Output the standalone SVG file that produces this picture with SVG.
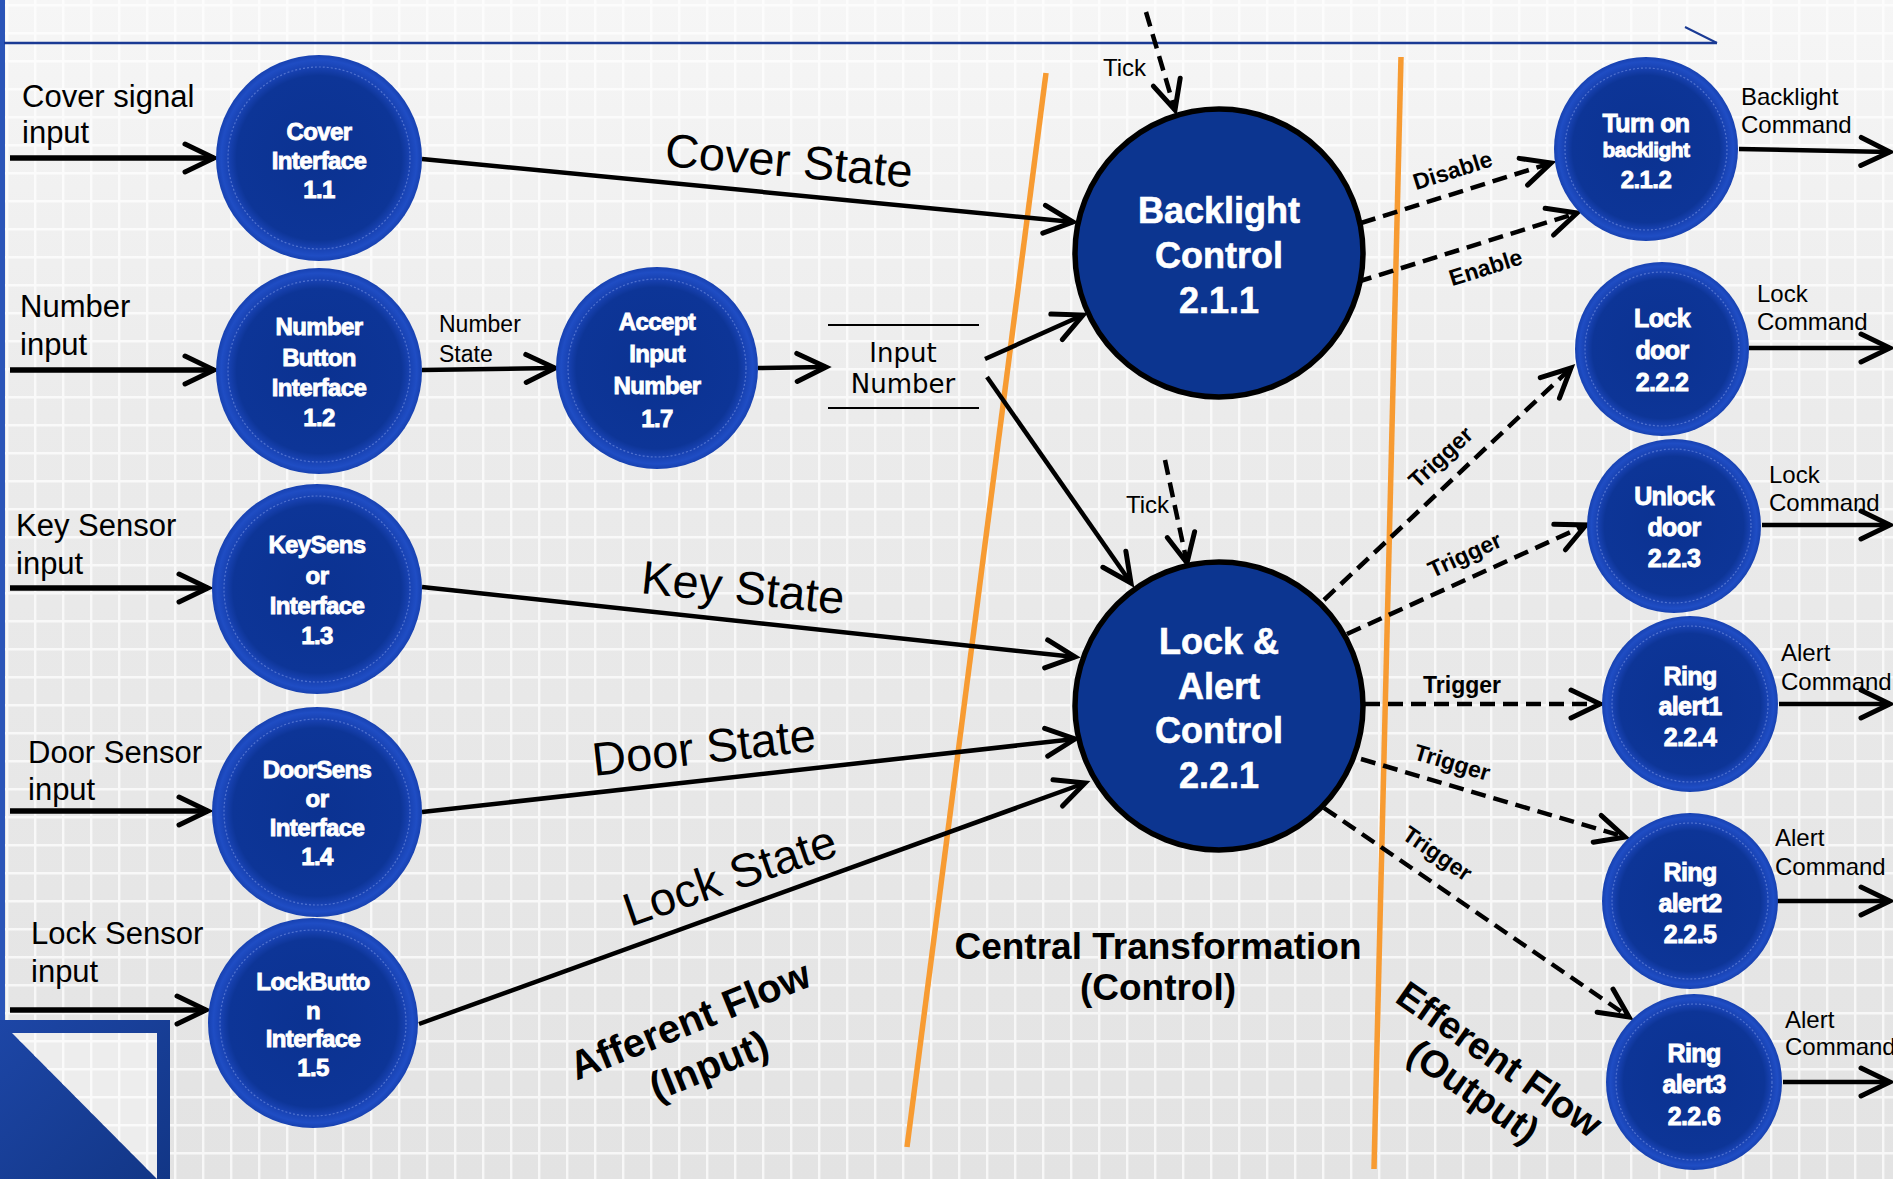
<svg xmlns="http://www.w3.org/2000/svg" width="1893" height="1179" viewBox="0 0 1893 1179">
<defs>
<style>
.t{font-family:"Liberation Sans",Arial,sans-serif;fill:#000}
.in{font-size:31px}
.sm{font-size:24px}
.big{font-size:47px}
.b{font-weight:bold}
.mid{text-anchor:middle}
.nt{font-family:"Liberation Sans",Arial,sans-serif;font-weight:bold;fill:#fff;stroke:#fff;stroke-width:0.9;text-anchor:middle;font-size:24px;letter-spacing:-0.6px}
.bt{font-family:"Liberation Sans",Arial,sans-serif;font-weight:bold;fill:#fff;stroke:#fff;stroke-width:0.6;text-anchor:middle;font-size:36px}
.sn{fill:url(#ng)}
.sni{fill:none;stroke:#7d99e6;stroke-opacity:.55;stroke-width:1.2;stroke-dasharray:2 2}
.bn{fill:#0c3590;stroke:#000;stroke-width:5.5}
.c{stroke:#000;stroke-width:4.5;fill:none;marker-end:url(#ah)}
.ci{stroke:#000;stroke-width:5.5;fill:none;marker-end:url(#ah)}
.d{stroke-dasharray:15 8}
.or{stroke:#f79b32;stroke-width:5.5;fill:none}
.store{stroke:#000;stroke-width:2.2}
</style>
<linearGradient id="bg" x1="0" y1="0" x2="0" y2="1">
<stop offset="0" stop-color="#f6f6f6"/>
<stop offset="0.35" stop-color="#ebebeb"/>
<stop offset="1" stop-color="#e3e3e3"/>
</linearGradient>
<pattern id="grid" width="28" height="28" patternUnits="userSpaceOnUse" x="6" y="4">
<path d="M0,1.2 H28 M1.2,0 V28" stroke="#ffffff" stroke-width="2.4" stroke-opacity="0.7"/>
</pattern>
<radialGradient id="ng" cx="0.5" cy="0.5" r="0.5">
<stop offset="0" stop-color="#0b3291"/>
<stop offset="0.8" stop-color="#0d3597"/>
<stop offset="0.88" stop-color="#1842b2"/>
<stop offset="0.95" stop-color="#1f4dc4"/>
<stop offset="1" stop-color="#1741b0"/>
</radialGradient>
<linearGradient id="corner" x1="0" y1="0" x2="1" y2="1">
<stop offset="0" stop-color="#1d46a6"/>
<stop offset="1" stop-color="#123686"/>
</linearGradient>
<marker id="ah" markerUnits="userSpaceOnUse" markerWidth="44" markerHeight="44" viewBox="-36 -22 44 44" refX="0" refY="0" orient="auto">
<path d="M-29,-14 L0,0 L-29,14" fill="none" stroke="#000" stroke-width="5" stroke-linecap="round"/>
</marker>
</defs>

<g id="background">
<rect x="0" y="0" width="1893" height="1179" fill="url(#bg)"/>
<rect x="0" y="0" width="1893" height="1179" fill="url(#grid)"/>
<rect x="0" y="0" width="5" height="1020" fill="#2b55b8"/>
<rect x="0" y="1020" width="170" height="159" fill="url(#corner)"/>
<polygon points="12,1033 157,1033 157,1179" fill="#ededed"/>
<polygon points="12,1033 157,1033 157,1179" fill="url(#grid)"/>
<line x1="4" y1="43" x2="1717" y2="43" stroke="#1a3a94" stroke-width="2.5"/>
<line x1="1685" y1="27" x2="1717" y2="43" stroke="#1a3a94" stroke-width="2"/>
</g>

<g id="boundaries">
<line class="or" x1="1046" y1="73" x2="907" y2="1147"/>
<line class="or" x1="1401" y1="57" x2="1374" y2="1169"/>
<text class="t b mid" style="font-size:37px" x="1158" y="959">Central Transformation</text>
<text class="t b mid" style="font-size:37px" x="1158" y="1000">(Control)</text>
<text class="t b mid" style="font-size:40px" transform="translate(695,1033) rotate(-22)">Afferent Flow</text>
<text class="t b mid" style="font-size:40px" transform="translate(714,1078) rotate(-22)">(Input)</text>
<text class="t b mid" style="font-size:38px" transform="translate(1492,1070) rotate(35)">Efferent Flow</text>
<text class="t b mid" style="font-size:38px" transform="translate(1466,1102) rotate(35)">(Output)</text>
</g>

<g id="connectors">
<line class="ci" x1="10" y1="158" x2="214" y2="158"/>
<line class="ci" x1="10" y1="370" x2="214" y2="370"/>
<line class="ci" x1="10" y1="588" x2="208" y2="588"/>
<line class="ci" x1="10" y1="811" x2="208" y2="811"/>
<line class="ci" x1="10" y1="1010" x2="206" y2="1010"/>
<line class="c" x1="422" y1="159" x2="1073" y2="222"/>
<line class="c" x1="422" y1="370" x2="555" y2="368"/>
<line class="c" x1="758" y1="368" x2="826" y2="367"/>
<line class="c" x1="985" y1="359" x2="1083" y2="315"/>
<line class="c" x1="987" y1="377" x2="1131" y2="583"/>
<line class="c" x1="422" y1="587" x2="1075" y2="657"/>
<line class="c" x1="422" y1="812" x2="1075" y2="739"/>
<line class="c" x1="419" y1="1024" x2="1085" y2="783"/>
<line class="c d" x1="1146" y1="12" x2="1175" y2="110"/>
<line class="c d" x1="1165" y1="460" x2="1187" y2="563"/>
<line class="c d" x1="1361" y1="223" x2="1551" y2="163"/>
<line class="c d" x1="1357" y1="282" x2="1577" y2="213"/>
<line class="c d" x1="1324" y1="600" x2="1571" y2="368"/>
<line class="c d" x1="1347" y1="634" x2="1586" y2="525"/>
<line class="c d" x1="1365" y1="704" x2="1600" y2="704"/>
<line class="c d" x1="1361" y1="759" x2="1625" y2="837"/>
<line class="c d" x1="1324" y1="808" x2="1629" y2="1017"/>
<line class="c" x1="1739" y1="149" x2="1890" y2="152"/>
<line class="c" x1="1749" y1="348" x2="1890" y2="348"/>
<line class="c" x1="1762" y1="525" x2="1890" y2="525"/>
<line class="c" x1="1779" y1="704" x2="1890" y2="704"/>
<line class="c" x1="1772" y1="901" x2="1890" y2="901"/>
<line class="c" x1="1783" y1="1082" x2="1890" y2="1082"/>
</g>

<g id="input-number-store">
<line class="store" x1="828" y1="325" x2="979" y2="325"/>
<line class="store" x1="828" y1="408" x2="979" y2="408"/>
<text x="903" y="362" text-anchor="middle" style="font-family:'DejaVu Sans',sans-serif;font-size:26px" fill="#000">Input</text>
<text x="903" y="393" text-anchor="middle" style="font-family:'DejaVu Sans',sans-serif;font-size:26px" fill="#000">Number</text>
</g>

<g id="labels">
<text class="t in" x="22" y="107">Cover signal</text>
<text class="t in" x="22" y="143">input</text>
<text class="t in" x="20" y="317">Number</text>
<text class="t in" x="20" y="355">input</text>
<text class="t in" x="16" y="536">Key Sensor</text>
<text class="t in" x="16" y="574">input</text>
<text class="t in" x="28" y="763">Door Sensor</text>
<text class="t in" x="28" y="800">input</text>
<text class="t in" x="31" y="944">Lock Sensor</text>
<text class="t in" x="31" y="982">input</text>
<text class="t" style="font-size:23px" x="439" y="332">Number</text>
<text class="t" style="font-size:23px" x="439" y="362">State</text>
<text class="t big" transform="translate(664,166) rotate(5)">Cover State</text>
<text class="t big" transform="translate(640,593) rotate(6)">Key State</text>
<text class="t big" transform="translate(594,776) rotate(-6.5)">Door State</text>
<text class="t big" transform="translate(630,927) rotate(-19)">Lock State</text>
<text class="t sm" x="1103" y="76">Tick</text>
<text class="t sm" x="1126" y="513">Tick</text>
<text class="t b mid" style="font-size:23px" transform="translate(1455,178) rotate(-17.5)">Disable</text>
<text class="t b mid" style="font-size:23px" transform="translate(1488,275) rotate(-17.5)">Enable</text>
<text class="t b mid" style="font-size:23px" transform="translate(1446,463) rotate(-43)">Trigger</text>
<text class="t b mid" style="font-size:23px" transform="translate(1468,562) rotate(-24.5)">Trigger</text>
<text class="t b mid" style="font-size:23px" x="1462" y="693">Trigger</text>
<text class="t b mid" style="font-size:23px" transform="translate(1450,770) rotate(16.5)">Trigger</text>
<text class="t b mid" style="font-size:23px" transform="translate(1433,860) rotate(34.4)">Trigger</text>
<text class="t sm" x="1741" y="105">Backlight</text>
<text class="t sm" x="1741" y="133">Command</text>
<text class="t sm" x="1757" y="302">Lock</text>
<text class="t sm" x="1757" y="330">Command</text>
<text class="t sm" x="1769" y="483">Lock</text>
<text class="t sm" x="1769" y="511">Command</text>
<text class="t sm" x="1781" y="661">Alert</text>
<text class="t sm" x="1781" y="690">Command</text>
<text class="t sm" x="1775" y="846">Alert</text>
<text class="t sm" x="1775" y="875">Command</text>
<text class="t sm" x="1785" y="1028">Alert</text>
<text class="t sm" x="1785" y="1055">Command</text>
</g>

<g id="n1-1">
<circle class="sn" cx="319" cy="158" r="103"/>
<circle class="sni" cx="319" cy="158" r="91"/>
<text class="nt" x="319" y="140">Cover</text>
<text class="nt" x="319" y="169">Interface</text>
<text class="nt" x="319" y="198">1.1</text>
</g>
<g id="n1-2">
<circle class="sn" cx="319" cy="371" r="103"/>
<circle class="sni" cx="319" cy="371" r="91"/>
<text class="nt" x="319" y="335">Number</text>
<text class="nt" x="319" y="366">Button</text>
<text class="nt" x="319" y="396">Interface</text>
<text class="nt" x="319" y="426">1.2</text>
</g>
<g id="n1-7">
<circle class="sn" cx="657" cy="368" r="101"/>
<circle class="sni" cx="657" cy="368" r="89"/>
<text class="nt" x="657" y="330">Accept</text>
<text class="nt" x="657" y="362">Input</text>
<text class="nt" x="657" y="394">Number</text>
<text class="nt" x="657" y="427">1.7</text>
</g>
<g id="n1-3">
<circle class="sn" cx="317" cy="589" r="105"/>
<circle class="sni" cx="317" cy="589" r="93"/>
<text class="nt" x="317" y="553">KeySens</text>
<text class="nt" x="317" y="584">or</text>
<text class="nt" x="317" y="614">Interface</text>
<text class="nt" x="317" y="644">1.3</text>
</g>
<g id="n1-4">
<circle class="sn" cx="317" cy="812" r="105"/>
<circle class="sni" cx="317" cy="812" r="93"/>
<text class="nt" x="317" y="778">DoorSens</text>
<text class="nt" x="317" y="807">or</text>
<text class="nt" x="317" y="836">Interface</text>
<text class="nt" x="317" y="865">1.4</text>
</g>
<g id="n1-5">
<circle class="sn" cx="313" cy="1023" r="105"/>
<circle class="sni" cx="313" cy="1023" r="93"/>
<text class="nt" x="313" y="990">LockButto</text>
<text class="nt" x="313" y="1019">n</text>
<text class="nt" x="313" y="1047">Interface</text>
<text class="nt" x="313" y="1076">1.5</text>
</g>
<g id="n2-1-1">
<circle class="bn" cx="1219" cy="253" r="144"/>
<text class="bt" x="1219" y="223">Backlight</text>
<text class="bt" x="1219" y="268">Control</text>
<text class="bt" x="1219" y="313">2.1.1</text>
</g>
<g id="n2-2-1">
<circle class="bn" cx="1219" cy="706" r="144"/>
<text class="bt" x="1219" y="654">Lock &amp;</text>
<text class="bt" x="1219" y="699">Alert</text>
<text class="bt" x="1219" y="743">Control</text>
<text class="bt" x="1219" y="788">2.2.1</text>
</g>
<g id="n2-1-2">
<circle class="sn" cx="1646" cy="149" r="92"/>
<circle class="sni" cx="1646" cy="149" r="81"/>
<text class="nt" style="font-size:25px" x="1646" y="132">Turn on</text>
<text class="nt" style="font-size:21px" x="1646" y="157">backlight</text>
<text class="nt" x="1646" y="188">2.1.2</text>
</g>
<g id="n2-2-2">
<circle class="sn" cx="1662" cy="349" r="87"/>
<circle class="sni" cx="1662" cy="349" r="77"/>
<text class="nt" style="font-size:25px" x="1662" y="327">Lock</text>
<text class="nt" style="font-size:25px" x="1662" y="359">door</text>
<text class="nt" style="font-size:25px" x="1662" y="391">2.2.2</text>
</g>
<g id="n2-2-3">
<circle class="sn" cx="1674" cy="526" r="87"/>
<circle class="sni" cx="1674" cy="526" r="77"/>
<text class="nt" style="font-size:25px" x="1674" y="505">Unlock</text>
<text class="nt" style="font-size:25px" x="1674" y="536">door</text>
<text class="nt" style="font-size:25px" x="1674" y="567">2.2.3</text>
</g>
<g id="n2-2-4">
<circle class="sn" cx="1690" cy="704" r="88"/>
<circle class="sni" cx="1690" cy="704" r="78"/>
<text class="nt" style="font-size:25px" x="1690" y="685">Ring</text>
<text class="nt" style="font-size:25px" x="1690" y="715">alert1</text>
<text class="nt" style="font-size:25px" x="1690" y="746">2.2.4</text>
</g>
<g id="n2-2-5">
<circle class="sn" cx="1690" cy="901" r="88"/>
<circle class="sni" cx="1690" cy="901" r="78"/>
<text class="nt" style="font-size:25px" x="1690" y="881">Ring</text>
<text class="nt" style="font-size:25px" x="1690" y="912">alert2</text>
<text class="nt" style="font-size:25px" x="1690" y="943">2.2.5</text>
</g>
<g id="n2-2-6">
<circle class="sn" cx="1694" cy="1082" r="88"/>
<circle class="sni" cx="1694" cy="1082" r="78"/>
<text class="nt" style="font-size:25px" x="1694" y="1062">Ring</text>
<text class="nt" style="font-size:25px" x="1694" y="1093">alert3</text>
<text class="nt" style="font-size:25px" x="1694" y="1125">2.2.6</text>
</g>
</svg>
